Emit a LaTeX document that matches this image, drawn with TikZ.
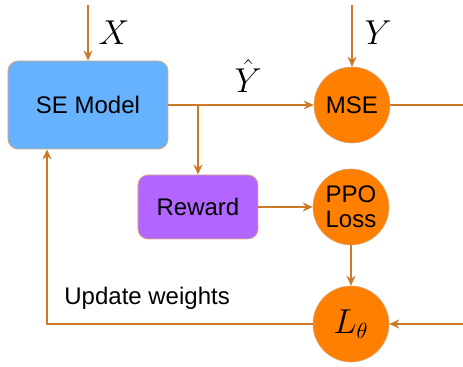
\documentclass[tikz,border=0pt]{standalone}
\usepackage{fontspec}
\setmainfont{Liberation Sans}
\usetikzlibrary{arrows.meta}
\definecolor{wire}{RGB}{204,122,40}
\definecolor{rim}{RGB}{214,170,128}
\definecolor{seblue}{RGB}{102,178,255}
\definecolor{rwpurple}{RGB}{178,102,255}
\definecolor{lossorange}{RGB}{255,128,0}
\begin{document}
\begin{tikzpicture}[x=0.5pt,y=0.5pt]
			\tikzstyle{every node}+=[inner sep=0pt, font=\fontsize{12}{13}\selectfont]
			\tikzstyle{mathlabel}=[font=\fontsize{16}{18}\selectfont]
			\tikzstyle{wirearrow}=[draw=wire, line width=0.65pt, -{Stealth[length=5pt,width=4.5pt]}]
			\tikzstyle{block}=[draw=rim, line width=0.4pt, rounded corners=5pt]
			\tikzstyle{loss}=[circle, fill=lossorange, draw=rim, line width=0.3pt, minimum size=38pt, align=center]
			\useasboundingbox (0,0) rectangle (463,-367);
			\node [block, fill=seblue, minimum width=80pt, minimum height=44pt] (se) at (88,-105) {SE Model};
			\node [block, fill=rwpurple, minimum width=60pt, minimum height=32pt] (reward) at (198,-207) {Reward};
			\node [loss] (mse) at (352,-105) {MSE};
			\node [loss, font=\fontsize{12}{12.5}\selectfont] (ppo) at (351,-207) {PPO\\Loss};
			\node [loss, mathlabel] (lt) at (351,-324) {$L_\theta$};
			\coordinate (xin) at (88,-5);
			\coordinate (yin) at (352,-5);
			\coordinate (mseout) at (463,-105);
			\coordinate (ltin) at (463,-324);
			\coordinate (upd) at (47,-324);
			\draw [wirearrow] (xin) -- (se) node [pos=0.5, right=5pt, mathlabel] {$X$};
			\draw [wirearrow] (yin) -- (mse) node [pos=0.45, right=6pt, mathlabel] {$Y$};
			\draw [wirearrow] (se) -- (mse) node [pos=0.55, above=6pt, mathlabel] {$\hat{Y}$};
			\draw [wirearrow] (se.east -| reward) -- (reward);
			\draw [wirearrow] (reward) -- (ppo);
			\draw [wirearrow] (ppo) -- (lt);
			\draw [draw=wire, line width=0.65pt] (mse) -- (mseout);
			\draw [wirearrow] (ltin) -- (lt);
			\draw [wirearrow] (lt) -- (upd) -- (upd |- se.south);
			\node [anchor=west] (updlabel) at (64,-298) {Update weights};
		\end{tikzpicture}
\end{document}
